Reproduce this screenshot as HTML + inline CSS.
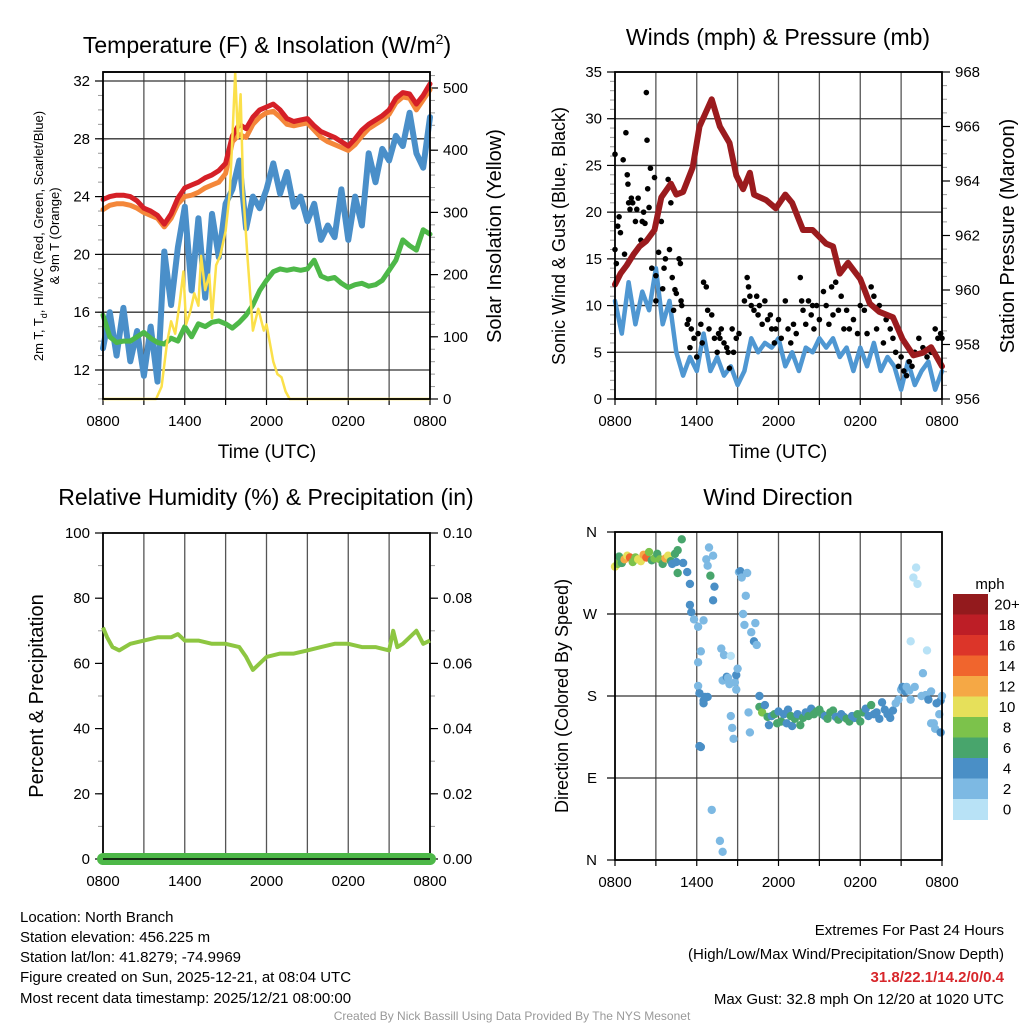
<!DOCTYPE html>
<html><head><meta charset="utf-8"><style>
html,body{margin:0;padding:0;background:#fff;}
svg{display:block;font-family:"Liberation Sans",sans-serif;}
</style></head><body>
<svg id="chart" width="1024" height="1024" viewBox="0 0 1024 1024" xmlns="http://www.w3.org/2000/svg">
<rect x="0" y="0" width="1024" height="1024" fill="#fff"/>
<text x="267" y="53" font-size="23" text-anchor="middle">Temperature (F) &amp; Insolation (W/m<tspan dy="-9" font-size="14">2</tspan><tspan dy="9">)</tspan></text>
<text x="778" y="45" font-size="23" text-anchor="middle">Winds (mph) &amp; Pressure (mb)</text>
<text x="266" y="505" font-size="23" text-anchor="middle">Relative Humidity (%) &amp; Precipitation (in)</text>
<text x="778" y="505" font-size="23" text-anchor="middle">Wind Direction</text>
<text x="267" y="458" font-size="19" text-anchor="middle">Time (UTC)</text>
<text x="778" y="458" font-size="19" text-anchor="middle">Time (UTC)</text>
<text transform="translate(43,236) rotate(-90)" font-size="13" text-anchor="middle">2m T, T<tspan dy="4" font-size="9">d</tspan><tspan dy="-4">, HI/WC (Red, Green, Scarlet/Blue)</tspan></text>
<text transform="translate(59,236) rotate(-90)" font-size="13" text-anchor="middle">&amp; 9m T (Orange)</text>
<text transform="translate(501,236) rotate(-90)" font-size="20" text-anchor="middle">Solar Insolation (Yellow)</text>
<text transform="translate(565,236) rotate(-90)" font-size="18" text-anchor="middle">Sonic Wind &amp; Gust (Blue, Black)</text>
<text transform="translate(1014,236) rotate(-90)" font-size="20" text-anchor="middle">Station Pressure (Maroon)</text>
<text transform="translate(43,696) rotate(-90)" font-size="20" text-anchor="middle">Percent &amp; Precipitation</text>
<text transform="translate(568,696) rotate(-90)" font-size="18" text-anchor="middle">Direction (Colored By Speed)</text>
<g font-size="15">
<text x="20" y="922">Location: North Branch</text>
<text x="20" y="942">Station elevation: 456.225 m</text>
<text x="20" y="962">Station lat/lon: 41.8279; -74.9969</text>
<text x="20" y="982">Figure created on Sun, 2025-12-21, at 08:04 UTC</text>
<text x="20" y="1003">Most recent data timestamp: 2025/12/21 08:00:00</text>
</g>
<g font-size="15" text-anchor="end">
<text x="1004" y="935">Extremes For Past 24 Hours</text>
<text x="1004" y="959">(High/Low/Max Wind/Precipitation/Snow Depth)</text>
<text x="1004" y="982" fill="#d7262b" font-weight="bold">31.8/22.1/14.2/0/0.4</text>
<text x="1004" y="1004">Max Gust: 32.8 mph On 12/20 at 1020 UTC</text>
</g>
<text x="512" y="1020" font-size="12" fill="#999" text-anchor="middle">Created By Nick Bassill Using Data Provided By The NYS Mesonet</text>
</svg>
<script>
// ---- data ----
const xTickLabels=['0800','1400','2000','0200','0800'];
const tempTicks=[12,16,20,24,28,32];
const solarTicks=[0,100,200,300,400,500];
const windTicks=[0,5,10,15,20,25,30,35];
const presTicks=[956,958,960,962,964,966,968];
const rhTicks=[0,20,40,60,80,100];
const precipTicks=['0.00','0.02','0.04','0.06','0.08','0.10'];
const dirTickLabels=['N','E','S','W','N'];
const dirTickValues=[0,90,180,270,360];
const speedBins=['0','2','4','6','8','10','12','14','16','18','20+'];
const speedColors=['#b8e2f6','#7db9e3','#4a8fc6','#48a56c','#7cc24b','#e6e05a','#f5a845','#f0652d','#dc3529','#bd1e26','#931a1d'];
const halfHour=[0,0.5,1,1.5,2,2.5,3,3.5,4,4.5,5,5.5,6,6.5,7,7.5,8,8.5,9,9.5,10,10.5,11,11.5,12,12.5,13,13.5,14,14.5,15,15.5,16,16.5,17,17.5,18,18.5,19,19.5,20,20.5,21,21.5,22,22.5,23,23.5,24];
const tempRed=[23.8,24.0,24.1,24.1,24.0,23.7,23.2,23.0,22.7,22.1,22.8,23.9,24.6,24.8,25.0,25.3,25.5,25.8,26.3,28.2,29.0,28.7,29.5,30.0,30.2,30.4,30.0,29.4,29.2,29.3,29.4,28.9,28.5,28.3,28.1,27.8,27.5,28.0,28.6,29.0,29.3,29.6,30.0,30.8,31.2,31.1,30.4,31.0,31.8];
const tempOrange=[23.1,23.4,23.5,23.5,23.4,23.2,22.9,22.7,22.5,21.9,22.5,23.5,24.0,24.1,24.3,24.6,24.8,25.0,25.6,27.8,28.3,28.1,29.0,29.5,29.8,29.9,29.5,29.0,28.9,29.0,29.1,28.6,28.1,27.8,27.6,27.4,27.2,27.6,28.2,28.7,29.0,29.3,29.7,30.5,30.9,30.8,30.0,30.7,31.4];
const dewGreen=[15.8,14.3,13.9,14.0,14.0,14.3,14.6,14.2,13.9,13.8,14.2,14.0,15.0,14.3,15.2,15.0,15.3,15.4,15.2,14.9,15.3,15.8,16.5,17.5,18.2,18.8,19.0,18.9,19.0,18.9,19.0,19.6,18.5,18.3,18.4,18.0,17.7,17.9,18.0,17.8,17.9,18.2,18.9,19.6,21.0,20.6,20.3,21.7,21.4];
const windChill=[13.5,16.0,13.0,16.3,12.6,14.7,11.6,15.0,11.2,20.2,16.5,20.5,23.3,17.5,22.5,17.0,22.8,19.8,23.5,24.5,26.5,21.8,24.0,23.2,24.5,26.3,24.2,25.7,23.3,24.0,22.3,23.5,21.0,22.0,21.2,24.5,21.0,24.0,22.0,27.0,25.0,27.3,26.5,28.2,27.5,29.8,27.0,26.0,29.5];
const solarT=[0,3.9,4.3,4.7,5.0,5.3,5.6,5.9,6.1,6.4,6.7,7.0,7.2,7.5,7.8,8.0,8.3,8.6,9.0,9.3,9.5,9.7,9.9,10.1,10.3,10.6,11.0,11.4,11.8,12.0,12.5,12.8,13.1,13.4,13.7,24];
const solarV=[0,0,20,90,125,105,150,205,120,140,170,150,230,175,200,130,215,230,270,330,420,525,420,490,330,230,110,145,110,120,60,40,35,12,0,0];
const windSpeed=[10.5,7.0,12.5,8.0,11.5,9.5,14.0,8.0,10.5,5.0,2.5,4.5,3.0,7.0,3.0,4.5,2.5,3.5,1.5,3.0,6.5,5.0,6.0,5.5,6.5,3.5,5.0,3.0,5.5,5.0,6.5,5.5,6.5,4.5,5.5,3.0,5.5,3.5,6.0,3.0,4.5,3.5,1.0,4.0,1.5,3.0,4.0,1.0,3.0];
const presT=[0,0.4,0.85,1.35,1.8,2.3,2.9,3.4,4.1,4.5,5,5.7,6.2,7.1,7.7,8.4,8.9,9.4,9.9,10.2,11.1,11.8,12.5,13,13.8,14.5,15.5,16,16.5,17.1,18,18.7,19.4,20.4,21.1,21.9,22.6,23.2,24];
const presV=[960.2,960.6,960.9,961.3,961.6,961.8,962.2,963.4,963.9,963.5,963.6,964.5,966.0,967.0,966.0,965.4,964.2,963.7,964.3,963.5,963.3,963.0,963.5,963.2,962.2,962.2,961.7,961.6,960.6,961.0,960.4,959.5,959.2,959.0,958.2,957.6,957.7,957.9,957.2];
const gustT=[0,0,0.1,0.2,0.3,0.4,0.6,0.7,0.8,0.9,0.95,1.0,1.1,1.2,1.3,1.5,1.6,1.7,1.9,2.0,2.1,2.2,2.3,2.35,2.4,2.5,2.6,2.7,2.9,3.0,3.0,3.2,3.4,3.5,3.6,3.7,3.9,4.0,4.1,4.2,4.3,4.4,4.5,4.7,4.8,4.85,4.9,5.3,5.4,5.5,5.6,5.8,6.0,6.1,6.3,6.4,6.5,6.7,6.8,6.9,7.1,7.3,7.5,7.6,7.7,7.8,8.0,8.2,8.3,8.4,8.6,8.7,8.9,9.1,9.5,9.7,9.8,9.9,10,10.2,10.4,10.5,10.6,10.8,11.0,11.2,11.4,11.5,11.7,11.8,12,12.2,12.5,12.7,12.9,13.1,13.3,13.6,13.7,13.8,14,14.2,14.4,14.5,14.6,14.8,15.0,15.3,15.5,15.7,15.9,16.0,16.2,16.4,16.6,16.8,17.0,17.2,17.5,17.8,18.0,18.3,18.5,18.8,19,19.2,19.4,19.7,19.9,20.2,20.4,20.6,20.8,21.0,21.2,21.4,21.6,21.8,22.0,22.3,22.6,22.9,23.2,23.5,23.7,23.9,24];
const gustV=[26.2,16,14.5,18.5,19.5,17.8,25.6,15.5,28.5,24,23,21,20.3,21.5,21,19,20.3,21.5,17,19,20,18.8,32.8,27.7,22.5,20.5,24.7,14,23.7,13.2,10.5,15.7,19,11.8,14,15,23.5,16,21,13,9.5,11.7,11.3,15,14.5,10.5,10,8,8.5,5.5,7.5,6.5,4.5,7,8,6,12.5,12,9.5,7.5,9,6.5,5,7,6.5,7.5,6,5.5,5,3.3,7.5,5,6.5,7,10.5,13,12,11,10,9.5,11,9,10,8,10.5,8.5,9,7.5,6,7.5,8.5,6.5,10.5,7.5,6,8,7,13,10.5,9.5,8,10.5,9,10,7.5,10,8.5,11.5,10,8,12,9,12.5,9.5,11,7.5,9.5,7.5,8.5,7,10,9.5,7,12,11,7.5,10,6,8.5,7.5,6.5,5,3.5,4.5,3,2.5,4,3.5,5,6.5,5.5,4.5,5,7.5,6.5,7,6.5];
const rhT=[0,0.3,0.7,1.2,2,3,4,5,5.5,6,7,8,9,10,10.5,11,11.5,12,13,14,15,16,17,18,19,20,21,21.3,21.6,22,22.5,23,23.5,24];
const rhV=[71,68,65,64,66,67,68,68,69,67,67,66,66,65,62,58,60,62,63,63,64,65,66,66,65,65,64,70,65,66,68,70,66,67];
const precipT=[0,24];
const precipV=[0,0];
const dirT=[0.0,0.2,0.3,0.5,0.7,0.9,1.1,1.3,1.5,1.7,1.9,2.1,2.3,2.5,2.7,2.9,3.1,3.3,3.5,3.7,3.9,4.1,4.4,4.6,4.9,4.2,4.5,4.6,5.0,5.3,5.5,5.5,5.6,5.8,6.1,6.1,6.1,6.2,6.3,6.2,6.3,6.5,6.5,6.5,6.6,6.8,6.9,6.7,6.8,7.0,7.2,7.3,7.2,7.1,7.7,7.9,7.8,7.9,8.0,8.2,8.3,8.4,8.5,8.5,8.6,8.7,8.8,8.9,8.9,9.0,9.1,9.2,9.3,9.4,9.5,9.6,9.7,9.8,9.9,10.0,10.2,10.3,10.4,10.6,10.6,10.8,11.0,11.2,11.3,11.5,11.7,11.9,12.0,12.2,12.4,12.6,12.7,12.9,13.0,13.2,13.4,13.6,13.8,14.0,14.2,14.4,14.6,14.8,15.0,15.2,15.4,15.6,15.8,16.0,16.2,16.4,16.6,16.8,17.0,17.2,17.4,17.6,17.8,18.0,18.2,18.4,18.6,18.8,19.0,19.2,19.4,19.6,19.8,20.0,20.2,20.4,20.6,20.8,21.0,21.1,21.3,21.4,21.6,21.7,21.7,21.9,22.1,22.2,22.6,22.0,22.5,22.8,23.0,23.2,23.4,23.6,23.8,23.9,24.0,23.2,23.5,23.9,22.9];
const dirD=[322,325,333,326,330,334,332,327,332,330,328,335,332,338,329,331,336,330,325,331,334,328,336,340,352,325,327,315,326,316,303,280,272,264,256,217,191,183,229,125,124,175,172,263,179,179,343,330,323,312,334,300,285,55,21,9,232,197,225,201,200,193,224,158,145,133,195,203,187,210,316,317,310,270,258,290,315,162,140,250,240,260,236,180,168,162,170,157,148,158,160,150,163,152,160,150,165,158,147,155,160,148,156,162,158,166,160,163,165,160,158,155,162,164,157,154,160,157,155,152,158,156,160,152,162,166,158,170,160,162,155,173,165,160,156,164,172,176,187,190,185,190,186,240,176,310,321,303,205,190,180,181,176,185,150,172,160,175,180,150,144,140,230];
const dirS=[10,8,7,6,12,11,14,9,8,10,10,12,15,8,7,8,7,9,7,12,10,6,7,6,6,4,4,6,4,4,4,4,4,2,2,2,2,4,2,4,4,4,4,2,4,4,2,2,2,6,2,4,4,2,2,2,2,2,2,4,2,2,1,2,2,2,2,4,2,2,2,4,2,2,2,2,2,2,2,2,4,2,2,4,6,8,4,6,4,4,6,6,4,6,4,4,4,6,4,6,4,6,6,4,6,4,6,6,6,6,4,6,6,6,4,6,4,4,6,6,4,4,6,6,6,4,4,6,4,4,4,4,4,4,4,4,2,2,2,4,4,2,2,1,2,1,1,1,2,2,2,2,4,2,2,4,2,4,2,2,2,4,1];

// ---- helpers ----
const NS='http://www.w3.org/2000/svg';
const svg=document.getElementById('chart');
function mk(tag,attrs,parent){const e=document.createElementNS(NS,tag);for(const k in attrs)e.setAttribute(k,attrs[k]);(parent||svg).appendChild(e);return e;}
function lin(d0,d1,r0,r1){return v=>r0+(v-d0)*(r1-r0)/(d1-d0);}
function pathFrom(xs,ys,fx,fy){let d='';for(let i=0;i<xs.length;i++)d+=(i?'L':'M')+fx(xs[i]).toFixed(1)+','+fy(ys[i]).toFixed(1);return d;}

const P1={x0:103,x1:430,y0:72,y1:399};
const P2={x0:615,x1:942,y0:72,y1:399};
const P3={x0:103,x1:430,y0:533,y1:859};
const P4={x0:615,x1:942,y0:532,y1:860};

function frame(P,name,hVals,fy,vGrid){
  const g=mk('g',{});
  
  
  const fx=lin(0,24,P.x0,P.x1);
  if(vGrid){for(let h=3;h<24;h+=3){const l=mk('line',{x1:fx(h),x2:fx(h),y1:P.y0,y2:P.y1,stroke:'#555','stroke-width':1.3},g);}}
  hVals.forEach(v=>{mk('line',{x1:P.x0,x2:P.x1,y1:fy(v),y2:fy(v),stroke:'#333','stroke-width':1.3},g);});
  for(let h=0;h<=24;h+=3){mk('line',{x1:fx(h),x2:fx(h),y1:P.y1,y2:P.y1+6,stroke:'#000','stroke-width':1.2},g);}
  xTickLabels.forEach((lb,i)=>{const t=mk('text',{x:fx(i*6),y:P.y1+27,'font-size':15,'text-anchor':'middle'},g);t.textContent=lb;});
  return fx;
}
function border(P,name){const r=mk('rect',{x:P.x0,y:P.y0,width:P.x1-P.x0,height:P.y1-P.y0,fill:'none',stroke:'#000','stroke-width':1.8});}
function yAxis(P,vals,labels,fy,side,minorStep,dmin,dmax,name){
  const g=mk('g',{});
  
  
  const x=side==='left'?P.x0:P.x1;const dir=side==='left'?-1:1;
  if(minorStep){for(let v=dmin;v<=dmax+1e-9;v+=minorStep){const y=fy(v);if(y<P.y0-0.5||y>P.y1+0.5)continue;mk('line',{x1:x,x2:x+dir*5,y1:y,y2:y,stroke:'#999','stroke-width':1},g);}}
  vals.forEach((v,i)=>{const y=fy(v);mk('line',{x1:x,x2:x+dir*8,y1:y,y2:y,stroke:'#000','stroke-width':1.2},g);
    const t=mk('text',{x:x+dir*13,y:y+5,'font-size':15,'text-anchor':side==='left'?'end':'start'},g);t.textContent=labels[i];});
}

// ---- panel 1 ----
const yT=lin(12,32,370,81), yS=lin(0,500,399,88);
const fx1=frame(P1,'temp',tempTicks,yT,true);
mk('line',{x1:P1.x0,x2:P1.x1,y1:P1.y0,y2:P1.y0,stroke:'#000','stroke-width':1.5});
yAxis(P1,tempTicks,tempTicks.map(String),yT,'left',1,10,33,'temp-y-axis');
yAxis(P1,solarTicks,solarTicks.map(String),yS,'right',20,0,520,'solar-y-axis');
let e;
e=mk('path',{d:pathFrom(halfHour,windChill,fx1,yT),fill:'none',stroke:'#4a8fc9','stroke-width':6,'stroke-linejoin':'round','stroke-linecap':'round'});


e=mk('path',{d:pathFrom(halfHour,dewGreen,fx1,yT),fill:'none',stroke:'#4db848','stroke-width':5,'stroke-linejoin':'round','stroke-linecap':'round'});


e=mk('path',{d:pathFrom(halfHour,tempOrange,fx1,yT),fill:'none',stroke:'#f4873a','stroke-width':5,'stroke-linejoin':'round','stroke-linecap':'round'});


e=mk('path',{d:pathFrom(halfHour,tempRed,fx1,yT),fill:'none',stroke:'#d52027','stroke-width':5,'stroke-linejoin':'round','stroke-linecap':'round'});


e=mk('path',{d:pathFrom(solarT,solarV,fx1,yS),fill:'none',stroke:'#fbe04a','stroke-width':2.5,'stroke-linejoin':'round'});


border(P1,'temp');

// ---- panel 2 ----
const yW=lin(0,35,399,72), yP=lin(956,968,399,72);
const fx2=frame(P2,'wind',windTicks,yW,true);
yAxis(P2,windTicks,windTicks.map(String),yW,'left',1,0,35,'wind-y-axis');
yAxis(P2,presTicks,presTicks.map(String),yP,'right',0.5,956,968,'pressure-y-axis');
e=mk('path',{d:pathFrom(halfHour,windSpeed,fx2,yW),fill:'none',stroke:'#4f97d2','stroke-width':4.5,'stroke-linejoin':'round','stroke-linecap':'round'});


const gg=mk('g',{});


gustT.forEach((t,i)=>{const c=mk('circle',{cx:fx2(t),cy:yW(gustV[i]),r:2.8,fill:'#000'},gg);

});
e=mk('path',{d:pathFrom(presT,presV,fx2,yP),fill:'none',stroke:'#9b1b1e','stroke-width':6,'stroke-linejoin':'round','stroke-linecap':'round'});


border(P2,'wind');

// ---- panel 3 ----
const yR=lin(0,100,859,533), yPr=lin(0,0.1,859,533);
const fx3=frame(P3,'rh',[],yR,true);
yAxis(P3,rhTicks,rhTicks.map(String),yR,'left',10,0,100,'rh-y-axis');
yAxis(P3,precipTicks.map(Number),precipTicks,yPr,'right',0.01,0,0.1,'precip-y-axis');
border(P3,'rh');
e=mk('path',{d:pathFrom(rhT,rhV,fx3,yR),fill:'none',stroke:'#8dc641','stroke-width':4,'stroke-linejoin':'round'});


e=mk('path',{d:pathFrom(precipT,precipV,fx3,yPr),fill:'none',stroke:'#4db848','stroke-width':12,'stroke-linecap':'round'});


mk('line',{x1:P3.x0,x2:P3.x1,y1:859,y2:859,stroke:'#000','stroke-width':1.5});

// ---- panel 4 ----
const yD=lin(0,360,860,532);
const fx4=frame(P4,'direction',dirTickValues,yD,true);
const g4=mk('g',{});


dirTickValues.forEach((v,i)=>{mk('line',{x1:P4.x0-8,x2:P4.x0,y1:yD(v),y2:yD(v),stroke:'#000','stroke-width':1.2},g4);
const t=mk('text',{x:P4.x0-18,y:yD(v)+5,'font-size':15,'text-anchor':'end'},g4);t.textContent=dirTickLabels[i];});
const gd=mk('g',{});


dirT.forEach((t,i)=>{const k=Math.min(10,Math.floor(dirS[i]/2));
const c=mk('circle',{cx:fx4(t),cy:yD(dirD[i]),r:4.2,fill:speedColors[k]},gd);

});
border(P4,'direction');
// colorbar
const cb=mk('g',{});


const cbt=mk('text',{x:990,y:589,'font-size':15,'text-anchor':'middle'},cb);cbt.textContent='mph';
const bh=20.5;
for(let i=0;i<speedBins.length;i++){const k=10-i;const y=594+i*bh;
const r=mk('rect',{x:953,y:y,width:35,height:bh+0.5,fill:speedColors[k]},cb);


const t=mk('text',{x:1007,y:y+bh/2+5,'font-size':15,'text-anchor':'middle'},cb);t.textContent=speedBins[k];}
</script>
</body></html>
